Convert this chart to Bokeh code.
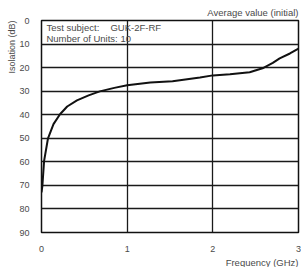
from bokeh.plotting import figure
from bokeh.models import Range1d, FixedTicker, Label, Title
from bokeh.embed import file_html
from bokeh.resources import INLINE

freq_ghz = [0, 0.01, 0.03, 0.076, 0.14, 0.216, 0.30, 0.414, 0.55, 0.68, 0.85, 1.0,
            1.27, 1.53, 1.85, 2.0, 2.2, 2.43, 2.58, 2.7, 2.78, 2.9, 3.0]
isolation_db = [73, 70.3, 59.7, 50, 44, 39.8, 36.5, 33.9, 31.8, 30.1, 28.6, 27.5,
                26.3, 25.8, 24.2, 23.3, 22.8, 22.0, 20.3, 18.0, 16.1, 14.0, 11.9]
x_ticks = [0, 1, 2, 3]
y_ticks = [0, 10, 20, 30, 40, 50, 60, 70, 80, 90]

FONT = "Liberation Sans"
TXT = "#4a4a4a"

p = figure(width=301, height=267, output_backend="svg", toolbar_location=None,
           x_range=Range1d(0, 3), y_range=Range1d(90, 0),
           min_border_left=41, min_border_right=3, min_border_top=20, min_border_bottom=35)
p.outline_line_color = "#111111"
p.outline_line_width = 1.5

for ax in (p.xaxis[0], p.yaxis[0]):
    ax.axis_line_color = None
    ax.major_tick_line_color = None
    ax.minor_tick_line_color = None
    ax.major_label_text_font = FONT
    ax.major_label_text_font_size = "9px"
    ax.major_label_text_color = TXT
p.xaxis.ticker = FixedTicker(ticks=x_ticks)
p.yaxis.ticker = FixedTicker(ticks=y_ticks)
p.xaxis.major_label_standoff = 7
p.yaxis.major_label_standoff = 6

p.xgrid.ticker = FixedTicker(ticks=x_ticks)
p.ygrid.ticker = FixedTicker(ticks=y_ticks)
for g in (p.xgrid[0], p.ygrid[0]):
    g.grid_line_color = "#1a1a1a"
    g.grid_line_width = 1.3

p.line(freq_ghz, isolation_db, line_color="#111111", line_width=2)

def lab(x, y, text):
    p.add_layout(Label(x=x, y=y, text=text, text_font=FONT, text_font_size="9.5px",
                       text_color=TXT, text_align="left", text_baseline="middle"))

lab(0.058, 3.0, "Test subject:")
lab(0.805, 3.0, "GUK-2F-RF")
lab(0.058, 7.5, "Number of Units: 10")

def side_title(text, place, align, standoff=0, size="9.5px"):
    p.add_layout(Title(text=text, align=align, text_font=FONT, text_font_size=size,
                       text_color=TXT, text_font_style="normal", standoff=standoff,
                       offset=0), place)

side_title("Average value (initial)", "above", "right", standoff=6)
side_title("Frequency (GHz)", "below", "right")
side_title("Isolation (dB)", "left", "right", size="9px")

open("out.html", "w").write(file_html(p, INLINE))
